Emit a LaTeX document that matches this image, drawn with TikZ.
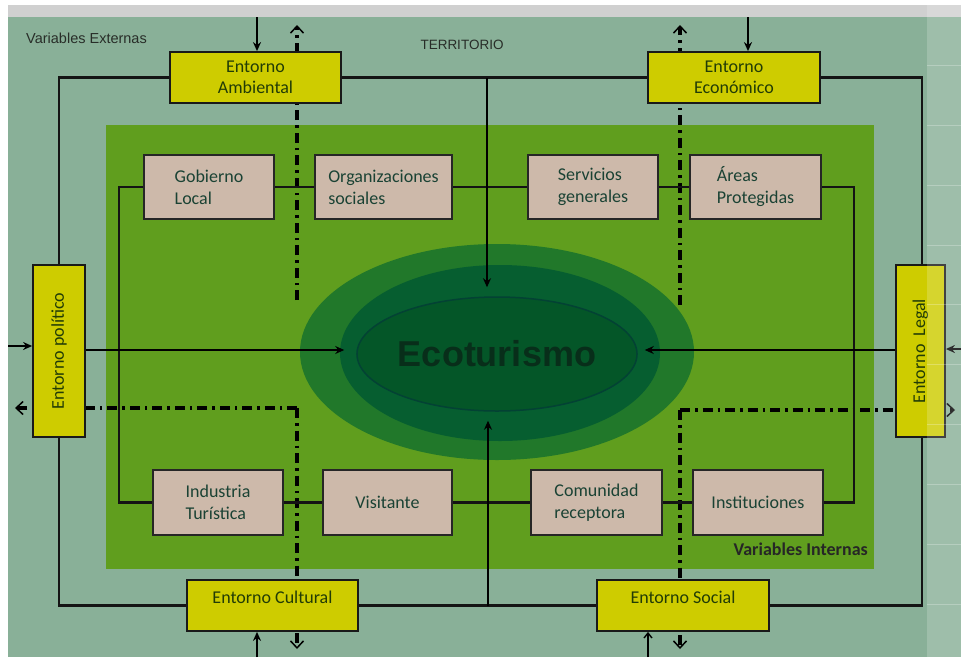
\documentclass[tikz,border=0pt]{standalone}
\usepackage{fontspec}
\usepackage{graphicx}
\setmainfont{Carlito}
\newfontfamily\arialf{Liberation Sans}
\usetikzlibrary{arrows.meta,shapes.geometric}
\definecolor{bgout}{RGB}{137,176,152}
\definecolor{bginner}{RGB}{96,158,30}
\definecolor{topbar}{RGB}{208,208,208}
\definecolor{yboxc}{RGB}{206,204,0}
\definecolor{ytext}{RGB}{34,60,6}
\definecolor{beige}{RGB}{205,185,170}
\definecolor{btext}{RGB}{26,66,52}
\definecolor{ellout}{RGB}{33,120,42}
\definecolor{ellmid}{RGB}{6,94,48}
\definecolor{ellin}{RGB}{4,86,40}
\definecolor{ellline}{RGB}{3,66,52}
\definecolor{ecotext}{RGB}{8,46,26}
\definecolor{labtext}{RGB}{40,45,40}
\begin{document}
\begin{tikzpicture}[x=1pt,y=-1pt,
  ybox/.style={draw=black!90,line width=1.8pt,fill=yboxc,text=ytext,
    font=\fontsize{18}{21}\selectfont,align=center,inner sep=0pt},
  bbox/.style={draw=black!85,line width=2pt,fill=beige,text=btext,
    font=\fontsize{18}{22}\selectfont,align=left,inner sep=0pt},
  link/.style={line width=2.8pt,draw=black!92},
  ddash/.style={line width=3.1pt,draw=black,dash pattern=on 10pt off 5pt on 2.5pt off 5pt},
  chev/.style={-{Straight Barb[length=7pt,width=13pt,line width=1.5pt,sep=3pt]}},
  solidarr/.style={line width=2.4pt,draw=black,-{Stealth[length=9pt,width=8pt]}}
]
\useasboundingbox (0,0) rectangle (961,657);
% backgrounds
\fill[white] (0,0) rectangle (961,657);
\fill[bgout] (8,17) rectangle (961,657);
\fill[topbar] (8,5) rectangle (961,17);
\fill[bginner] (106,125) rectangle (874,569);
% ellipses
\fill[ellout] (497,352) ellipse [x radius=197, y radius=108];
\fill[ellmid] (500,353) ellipse [x radius=160, y radius=88];
\node[ellipse,draw=ellline,line width=1.5pt,fill=ellin,minimum width=252,minimum height=114,inner sep=0pt,
  text=ecotext,font=\arialf\bfseries\fontsize{36}{40}\selectfont] (eco) at (497,354) {Ecoturismo};

% coordinates for free ends
\coordinate (dAtop) at (297,22);
\coordinate (dAend) at (297,300);
\coordinate (dEtop) at (680,22);
\coordinate (dEend) at (680,305);
\coordinate (dLc) at (297,408);
\coordinate (dLl) at (12,408);
\coordinate (dLb) at (297,652);
\coordinate (dRc) at (680,410);
\coordinate (dRr) at (958,410);
\coordinate (dRb) at (680,652);
% dash-dot lines
\draw[ddash,chev] (dAend) -- (dAtop);
\draw[ddash,chev] (dEend) -- (dEtop);
\draw[ddash,chev] (dLc) -- (dLl);
\draw[ddash,chev] (dLc) -- (dLb);
\draw[ddash,chev] (dRc) -- (dRr);
\draw[ddash,chev] (dRc) -- (dRb);

% external boxes
\node[ybox,minimum width=171,minimum height=51] (amb) at (255.5,77.5) {Entorno\\Ambiental};
\node[ybox,minimum width=172,minimum height=51] (econ) at (734,77.5) {Entorno\\Económico};
\node[ybox,minimum width=52,minimum height=172] (pol) at (59,351) {\rotatebox{90}{Entorno político}};
\node[ybox,minimum width=49,minimum height=172] (leg) at (920.5,351) {\rotatebox{90}{Entorno\ \ Legal}};
\node[ybox,minimum width=171,minimum height=51] (cul) at (272.5,605.5) {};
\node[ybox,minimum width=172,minimum height=51] (soc) at (683,605.5) {};
\node[text=ytext,font=\fontsize{18}{21}\selectfont,inner sep=0pt] (cult) at ([yshift=8pt]cul.center) {Entorno Cultural};
\node[text=ytext,font=\fontsize{18}{21}\selectfont,inner sep=0pt] (soct) at ([yshift=8pt]soc.center) {Entorno Social};

% outer loop
\draw[link] (amb.west) -| (pol.north);
\draw[link] (pol.south) |- (cul.west);
\draw[link] (cul.east) -- (soc.west);
\draw[link] (soc.east) -| ([xshift=1.5pt]leg.south);
\draw[link] ([xshift=1.5pt]leg.north) |- (econ.east);
\draw[link] (amb.east) -- (econ.west);

% internal boxes
\node[bbox,minimum width=130,minimum height=64] (gob) at (209,187) {Gobierno\\Local};
\node[bbox,minimum width=137,minimum height=64] (org) at (383.5,187) {Organizaciones\\sociales};
\node[bbox,minimum width=130,minimum height=64] (ser) at (593,187) {Servicios\\generales};
\node[bbox,minimum width=131,minimum height=64] (are) at (755.5,187) {Áreas\\Protegidas};
\node[bbox,minimum width=130,minimum height=65] (ind) at (218,502.5) {Industria\\Turística};
\node[bbox,minimum width=129,minimum height=65] (vis) at (387.5,502.5) {Visitante};
\node[bbox,minimum width=131,minimum height=65] (com) at (596.5,502.5) {Comunidad\\receptora};
\node[bbox,minimum width=130,minimum height=65] (ins) at (758,502.5) {Instituciones};

% inner loop
\coordinate (ilx) at (119,0);
\coordinate (irx) at (854,0);
\draw[link] (gob.west) -- (gob.west -| ilx) -- (ind.west -| ilx) -- (ind.west);
\draw[link] (are.east) -- (are.east -| irx) -- (ins.east -| irx) -- (ins.east);
\draw[link] (gob.east) -- (org.west);
\draw[link] (org.east) -- (ser.west);
\draw[link] (ser.east) -- (are.west);
\draw[link] (ind.east) -- (vis.west);
\draw[link] (vis.east) -- (com.west);
\draw[link] (com.east) -- (ins.west);

% arrows to Ecoturismo
\coordinate (terr) at (487,78);
\coordinate (bott) at (488,606);
\draw[solidarr,shorten >=9pt] (terr) -- (terr |- eco.north);
\draw[solidarr,shorten >=9pt] (bott) -- (bott |- eco.south);
\draw[solidarr,shorten >=12pt] ([yshift=1pt]pol.east) -- ([yshift=1pt]pol.east -| eco.west);
\draw[solidarr,shorten >=7pt] ([yshift=1pt]leg.west) -- ([yshift=1pt]leg.west -| eco.east);

% external arrows
\coordinate (inA) at (257,17);
\coordinate (inE) at (748,17);
\coordinate (inP) at (8,346);
\coordinate (inL) at (961,349);
\coordinate (inC) at (257,657);
\coordinate (inS) at (648,657);
\draw[solidarr] (inA) -- (inA |- amb.north);
\draw[solidarr] (inE) -- (inE |- econ.north);
\draw[solidarr] (inP) -- (inP -| pol.west);
\draw[solidarr] (inL) -- (inL -| leg.east);
\draw[solidarr] (inC) -- (inC |- cul.south);
\draw[line width=1.4pt,-{Straight Barb[length=5pt,width=8pt]}] (inS) -- (inS |- soc.south);

% labels
\node[anchor=west,inner sep=0pt,text=labtext,font=\arialf\fontsize{14.5}{15}\selectfont] (vext) at (26,38.5) {Variables Externas};
\node[inner sep=0pt,text=labtext,font=\arialf\fontsize{13.5}{14}\selectfont] (terrl) at (462,44.5) {TERRITORIO};
\node[anchor=east,inner sep=0pt,text=black!85,font=\bfseries\fontsize{18}{20}\selectfont] (vint) at (868,549) {Variables Internas};

% lighter right panel overlay
\fill[white,opacity=0.18] (927,5) rectangle (961,657);
\foreach \yy in {65,125,185,245,304,364,424,484,544,604}
  \draw[white,opacity=0.25,line width=0.6pt] (927,\yy) -- (961,\yy);
\end{tikzpicture}
\end{document}
